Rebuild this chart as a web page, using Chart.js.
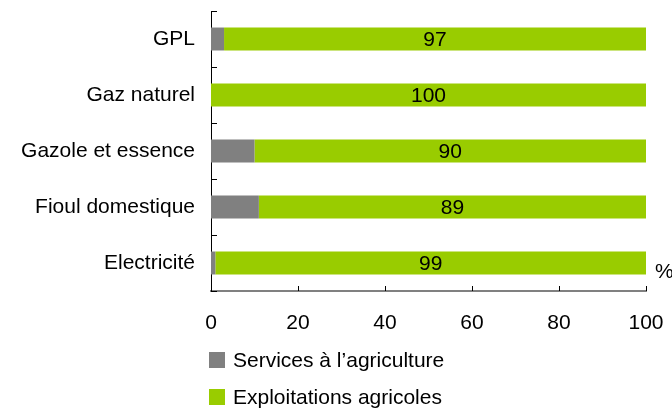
<!DOCTYPE html>
<html>
<head>
<meta charset="utf-8">
<script src="https://cdn.jsdelivr.net/npm/chart.js@4.4.1/dist/chart.umd.min.js"></script>
<style>
html,body{margin:0;padding:0;background:#fff;}
#wrap{position:relative;width:672px;height:410px;}
canvas{position:absolute;left:0;top:0;}
.leg{position:absolute;left:209px;height:16px;font-family:"Liberation Sans",Arial,sans-serif;font-size:21px;color:#000;white-space:nowrap;}
.leg .sw{position:absolute;left:0;top:0;width:16px;height:16px;}
.leg .tx{position:absolute;left:24px;top:-4px;line-height:24px;}
</style>
</head>
<body>
<div id="wrap">
<canvas id="c" width="672" height="410"></canvas>
<div class="leg" style="top:352px"><div class="sw" style="background:#808080"></div><div class="tx">Services à l’agriculture</div></div>
<div class="leg" style="top:389px"><div class="sw" style="background:#99CC00"></div><div class="tx">Exploitations agricoles</div></div>
</div>
<script>
const categories = ["GPL", "Gaz naturel", "Gazole et essence", "Fioul domestique", "Electricité"];
const servicesValues = [3, 0, 10, 11, 1];
const exploitationsValues = [97, 100, 90, 89, 99];
const xTickValues = [0, 20, 40, 60, 80, 100];
const seriesNames = ["Services à l’agriculture", "Exploitations agricoles"];
const unitLabel = "%";

const FONT = '"Liberation Sans", Arial, sans-serif';

const extras = {
  id: 'extras',
  afterDraw(chart) {
    const ctx = chart.ctx;
    const area = chart.chartArea;
    const xs = chart.scales.x, ys = chart.scales.y;
    ctx.save();
    ctx.strokeStyle = '#000';
    ctx.lineWidth = 1;
    const n = categories.length;
    for (let i = 0; i <= n; i++) {
      const py = Math.round(ys.getPixelForValue(i - 0.5)) + 0.5;
      ctx.beginPath();
      ctx.moveTo(area.left, py);
      ctx.lineTo(area.left + 6, py);
      ctx.stroke();
    }
    xs.ticks.forEach(t => {
      const px = Math.round(xs.getPixelForValue(t.value)) + 0.5;
      ctx.beginPath();
      ctx.moveTo(px, area.bottom - 5);
      ctx.lineTo(px, area.bottom);
      ctx.stroke();
    });
    ctx.fillStyle = '#000';
    ctx.font = '21px ' + FONT;
    ctx.textAlign = 'center';
    ctx.textBaseline = 'middle';
    chart.getDatasetMeta(1).data.forEach((bar, i) => {
      ctx.fillText(String(exploitationsValues[i]), (bar.x + bar.base) / 2, bar.y + 1);
    });
    ctx.textAlign = 'left';
    ctx.fillText(unitLabel, area.right + 9, area.bottom - 19);
    ctx.restore();
  }
};

new Chart(document.getElementById('c'), {
  type: 'bar',
  data: {
    labels: categories,
    datasets: [
      { label: seriesNames[0], data: servicesValues, backgroundColor: '#808080', borderWidth: 0 },
      { label: seriesNames[1], data: exploitationsValues, backgroundColor: '#99CC00', borderWidth: 0 }
    ]
  },
  options: {
    indexAxis: 'y',
    responsive: false,
    animation: false,
    devicePixelRatio: 1,
    categoryPercentage: 1,
    barPercentage: 0.41,
    layout: { padding: { top: 11, right: 26, left: 0, bottom: 0 } },
    plugins: { legend: { display: false }, tooltip: { enabled: false } },
    scales: {
      x: {
        stacked: true,
        min: 0, max: 100,
        afterBuildTicks: s => { s.ticks = xTickValues.map(v => ({ value: v })); },
        afterFit: s => { s.height = 119; s.paddingLeft = 0; s.paddingRight = 0; },
        grid: { display: false, drawTicks: false },
        border: { display: true, color: '#808080', width: 2 },
        ticks: { color: '#000', font: { family: FONT, size: 21 }, padding: 20, maxRotation: 0 }
      },
      y: {
        stacked: true,
        afterFit: s => { s.width = 211; s.paddingTop = 0; s.paddingBottom = 0; },
        grid: { display: false, drawTicks: false },
        border: { display: true, color: '#000', width: 1 },
        ticks: { color: '#000', font: { family: FONT, size: 21 }, padding: 16 }
      }
    }
  },
  plugins: [extras]
});
</script>
</body>
</html>
